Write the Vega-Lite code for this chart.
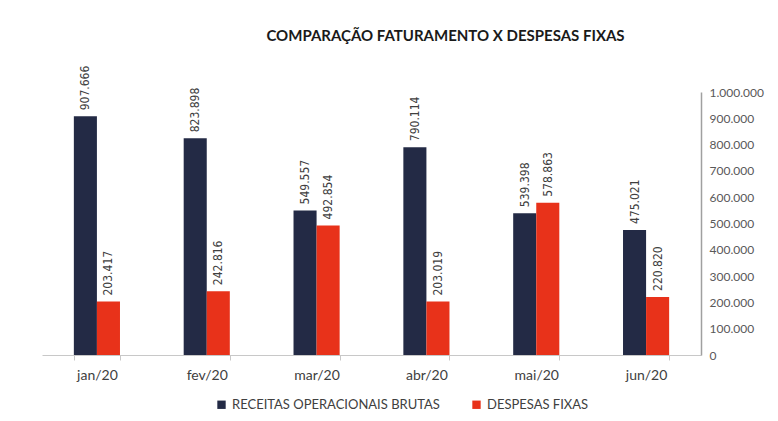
{
  "$schema": "https://vega.github.io/schema/vega-lite/v6.json",
  "width": 659,
  "height": 263,
  "autosize": {"type": "none"},
  "padding": {"left": 42, "top": 92, "right": 77, "bottom": 66},
  "background": "white",
  "config": {
    "locale": {"number": {"decimal": ",", "thousands": ".", "grouping": [3], "currency": ["R$", ""]}},
    "view": {"stroke": null},
    "font": "Lato"
  },
  "title": {
    "text": "COMPARAÇÃO FATURAMENTO X DESPESAS FIXAS",
    "font": "Lato",
    "fontSize": 15,
    "fontWeight": "bold",
    "color": "#1a1a1a",
    "anchor": "middle",
    "dx": 74,
    "offset": 22
  },
  "data": {
    "values": [
      {"mes": "jan/20", "serie": "RECEITAS OPERACIONAIS BRUTAS", "valor": 907666},
      {"mes": "jan/20", "serie": "DESPESAS FIXAS", "valor": 203417},
      {"mes": "fev/20", "serie": "RECEITAS OPERACIONAIS BRUTAS", "valor": 823898},
      {"mes": "fev/20", "serie": "DESPESAS FIXAS", "valor": 242816},
      {"mes": "mar/20", "serie": "RECEITAS OPERACIONAIS BRUTAS", "valor": 549557},
      {"mes": "mar/20", "serie": "DESPESAS FIXAS", "valor": 492854},
      {"mes": "abr/20", "serie": "RECEITAS OPERACIONAIS BRUTAS", "valor": 790114},
      {"mes": "abr/20", "serie": "DESPESAS FIXAS", "valor": 203019},
      {"mes": "mai/20", "serie": "RECEITAS OPERACIONAIS BRUTAS", "valor": 539398},
      {"mes": "mai/20", "serie": "DESPESAS FIXAS", "valor": 578863},
      {"mes": "jun/20", "serie": "RECEITAS OPERACIONAIS BRUTAS", "valor": 475021},
      {"mes": "jun/20", "serie": "DESPESAS FIXAS", "valor": 220820}
    ]
  },
  "encoding": {
    "x": {
      "field": "mes",
      "type": "nominal",
      "sort": null,
      "scale": {"paddingInner": 0.58, "paddingOuter": 0.29},
      "axis": {
        "title": null,
        "labelAngle": 0,
        "labelFontSize": 14,
        "labelColor": "#404040",
        "labelPadding": 8,
        "domainColor": "#c8c8c8",
        "tickColor": "#c8c8c8",
        "tickBand": "extent",
        "tickSize": 5
      }
    },
    "xOffset": {
      "field": "serie",
      "type": "nominal",
      "scale": {"domain": ["RECEITAS OPERACIONAIS BRUTAS", "DESPESAS FIXAS"], "paddingInner": 0}
    },
    "y": {
      "field": "valor",
      "type": "quantitative",
      "scale": {"domain": [0, 1000000], "nice": false},
      "axis": {
        "orient": "right",
        "title": null,
        "grid": false,
        "ticks": false,
        "values": [0, 100000, 200000, 300000, 400000, 500000, 600000, 700000, 800000, 900000, 1000000],
        "format": ",d",
        "labelFontSize": 12,
        "labelColor": "#595959",
        "labelPadding": 8,
        "domainColor": "#a0a0a0",
        "domainWidth": 1.5
      }
    }
  },
  "layer": [
    {
      "mark": {"type": "bar"},
      "encoding": {
        "color": {
          "field": "serie",
          "type": "nominal",
          "scale": {"domain": ["RECEITAS OPERACIONAIS BRUTAS", "DESPESAS FIXAS"], "range": ["#232a45", "#e8321a"]},
          "legend": {
            "orient": "none",
            "legendX": 173,
            "legendY": 306,
            "direction": "horizontal",
            "title": null,
            "symbolType": "square",
            "symbolSize": 70,
            "labelFontSize": 13,
            "labelLimit": 0,
            "labelColor": "#404040",
            "columnPadding": 30
          }
        }
      }
    },
    {
      "mark": {"type": "text", "angle": 270, "align": "left", "baseline": "middle", "dx": 6, "fontSize": 12, "color": "#404040", "font": "DejaVu Sans Condensed"},
      "encoding": {
        "text": {"field": "valor", "type": "quantitative", "format": ",d"}
      }
    }
  ]
}
